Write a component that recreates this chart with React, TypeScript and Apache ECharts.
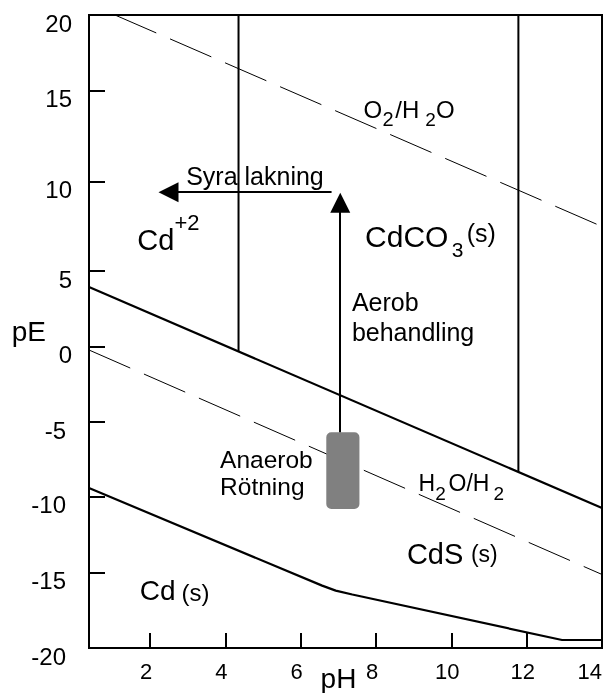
import React, { useEffect, useRef } from 'react';
import * as echarts from 'echarts';

const FONT = '"Liberation Sans", Arial, Helvetica, sans-serif';

// ---- axes ----
const PH_MIN = 0.38;
const PH_MAX = 14;
const PH_TICKS = [2, 4, 6, 8, 10, 12, 14];
const PE_TICKS = [20, 15, 10, 5, 0, -5, -10, -15, -20];
// where each pE tick sits on the drawn (uniform) scale: the original's pE scale is not evenly spaced
const PE_TICK_POS = [20, 15.22, 9.47, 3.82, -0.96, -5.72, -10.44, -15.24, -20];

// ---- boundaries, [pH, pE] ----
const O2_H2O = [[1.07, 20], [14, 7.49]];
const H2O_H2 = [[0.38, -0.22], [14, -15.12]];
const CD2_CDCO3_LOWER = [[0.38, 3.94], [14, -10.74]];
const CD2_CDCO3_V = [[4.35, 20], [4.35, -0.31]];
const CDCO3_V = [[11.78, 20], [11.78, -8.34]];
const CD_CDS = [[0.38, -9.42], [6.57, -15.86], [6.93, -16.19], [7.37, -16.45], [12.94, -19.47], [14, -19.47]];

// ---- arrows [from, to] ----
const ARROW_ACID = [[6.82, 9.41], [2.49, 9.41]];
const ARROW_AEROB = [[7.05, -5.69], [7.05, 8.82]];
// sludge box: pH left, pH right, pE top, pE bottom
const SLUDGE = [6.68, 7.56, -5.69, -10.81];

type Part = { text: string; dx?: number; dy?: number; size: number };
const ANNOTATIONS: { ph: number; pe: number; parts: Part[] }[] = [
  { ph: 2.96, pe: 9.82, parts: [{ text: 'Syra lakning', size: 25 }] },
  { ph: 1.66, pe: 6.18, parts: [{ text: 'Cd', size: 29 }, { text: '+2', dx: 37.3, dy: -20, size: 22 }] },
  {
    ph: 7.67, pe: 13.48, parts: [
      { text: 'O', size: 24 }, { text: '2', dx: 18.8, dy: 8, size: 20 }, { text: '/H', dx: 31.7, size: 24 },
      { text: '2', dx: 61.7, dy: 8, size: 19 }, { text: 'O', dx: 72.5, size: 24 },
    ],
  },
  {
    ph: 7.71, pe: 6.36, parts: [
      { text: 'CdCO', size: 30 }, { text: '3', dx: 86.7, dy: 10, size: 21 }, { text: '(s)', dx: 101.7, dy: -4.7, size: 25 },
    ],
  },
  { ph: 7.36, pe: 2.36, parts: [{ text: 'Aerob', size: 25 }, { text: 'behandling', dy: 30, size: 25 }] },
  { ph: 3.86, pe: -8.1, parts: [{ text: 'Anaerob', size: 24.5 }, { text: 'Rötning', dy: 26.7, size: 24.5 }] },
  {
    ph: 9.13, pe: -9.6, parts: [
      { text: 'H', size: 23 }, { text: '2', dx: 16.8, dy: 9.3, size: 19 }, { text: 'O/H', dx: 30, size: 23 },
      { text: '2', dx: 75, dy: 9.3, size: 19 },
    ],
  },
  { ph: 8.82, pe: -14.43, parts: [{ text: 'CdS', size: 29 }, { text: '(s)', dx: 64, dy: -2, size: 23 }] },
  { ph: 1.73, pe: -16.86, parts: [{ text: 'Cd', size: 28 }, { text: '(s)', dx: 41.7, dy: 0.3, size: 24 }] },
];

function warp(pe: number): number {
  for (let i = 0; i < PE_TICKS.length - 1; i++) {
    const a = PE_TICKS[i], b = PE_TICKS[i + 1];
    if ((pe <= a && pe >= b) || i === PE_TICKS.length - 2) {
      const t = (a - pe) / (a - b);
      return PE_TICK_POS[i] + t * (PE_TICK_POS[i + 1] - PE_TICK_POS[i]);
    }
  }
  return pe;
}

function unwarpLabel(v: number): string {
  let best = 0;
  for (let i = 0; i < PE_TICK_POS.length; i++) {
    if (Math.abs(PE_TICK_POS[i] - v) < Math.abs(PE_TICK_POS[best] - v)) best = i;
  }
  return String(PE_TICKS[best]);
}

const pts = (arr: number[][]) => arr.map(([x, y]) => [x, warp(y)]);

function lineSeries(name: string, data: number[][], width: number, type: any) {
  return {
    type: 'line',
    name,
    data: pts(data),
    symbol: 'none',
    silent: true,
    clip: true,
    z: 3,
    lineStyle: { color: '#000', width, type },
  };
}

export default function App() {
  const ref = useRef<HTMLDivElement>(null);
  useEffect(() => {
    if (!ref.current) return;
    const chart = echarts.init(ref.current, null, { renderer: 'svg' });
    const option: any = {
      animation: false,
      textStyle: { fontFamily: FONT, color: '#000' },
      grid: {
        left: 89, right: 1, top: 15, bottom: 45,
        containLabel: false, outerBoundsMode: 'none',
        show: true, borderColor: '#000', borderWidth: 2, backgroundColor: 'transparent',
      },
      xAxis: {
        type: 'value',
        min: PH_MIN,
        max: PH_MAX,
        name: 'pH',
        nameLocation: 'middle',
        nameGap: 16,
        nameMoveOverlap: false,
        nameTextStyle: { fontSize: 28, color: '#000', fontFamily: FONT, padding: [0, 14, 0, 0] },
        axisLine: { onZero: false, lineStyle: { color: '#000', width: 2 } },
        axisTick: { inside: true, length: 15, customValues: PH_TICKS, lineStyle: { color: '#000', width: 2 } },
        axisLabel: {
          customValues: PH_TICKS,
          fontSize: 22,
          color: '#000',
          fontFamily: FONT,
          margin: 12,
          alignMaxLabel: 'right',
          formatter: (v: number) => (v === PH_MAX ? `{e|${v}}` : `{n|${v}}`),
          rich: {
            n: { fontSize: 22, fontFamily: FONT, color: '#000', padding: [0, 8, 0, 0] },
            e: { fontSize: 22, fontFamily: FONT, color: '#000' },
          },
        },
        splitLine: { show: false },
      },
      yAxis: {
        type: 'value',
        min: -20,
        max: 20,
        name: 'pE',
        nameLocation: 'middle',
        nameRotate: 0,
        nameGap: 43,
        nameMoveOverlap: false,
        nameTextStyle: { fontSize: 28, color: '#000', fontFamily: FONT, padding: [0, 0, 16, 0] },
        axisLine: { onZero: false, lineStyle: { color: '#000', width: 2 } },
        axisTick: { inside: true, length: 16, customValues: PE_TICK_POS, lineStyle: { color: '#000', width: 2 } },
        axisLabel: {
          customValues: PE_TICK_POS,
          fontSize: 24,
          color: '#000',
          fontFamily: FONT,
          margin: 17,
          padding: [16, 0, 0, 0],
          formatter: (v: number) => {
            const s = unwarpLabel(v);
            return Number(s) < 0 ? `{g|${s}}` : `{p|${s}}`;
          },
          rich: {
            p: { fontSize: 24, fontFamily: FONT, color: '#000' },
            g: { fontSize: 24, fontFamily: FONT, color: '#000', padding: [0, 6, 0, 0] },
          },
        },
        splitLine: { show: false },
      },
      series: [
        lineSeries('O2/H2O', O2_H2O, 1, [45, 15]),
        lineSeries('H2O/H2', H2O_H2, 1, [45, 15]),
        lineSeries('Cd+2/CdCO3', CD2_CDCO3_LOWER, 2.2, 'solid'),
        lineSeries('Cd+2|CdCO3', CD2_CDCO3_V, 2, 'solid'),
        lineSeries('CdCO3|right', CDCO3_V, 2, 'solid'),
        lineSeries('Cd/CdS', CD_CDS, 2.2, 'solid'),
        {
          type: 'custom',
          name: 'sludge',
          silent: true,
          z: 4,
          data: [[SLUDGE[0], SLUDGE[1], warp(SLUDGE[2]), warp(SLUDGE[3])]],
          renderItem: (_p: any, api: any) => {
            const a = api.coord([api.value(0), api.value(2)]);
            const b = api.coord([api.value(1), api.value(3)]);
            return {
              type: 'rect',
              shape: { x: a[0], y: a[1], width: b[0] - a[0], height: b[1] - a[1], r: 5 },
              style: { fill: '#808080' },
            };
          },
        },
        {
          type: 'lines',
          coordinateSystem: 'cartesian2d',
          name: 'arrows',
          silent: true,
          z: 5,
          symbol: ['none', 'triangle'],
          symbolSize: 20,
          itemStyle: { color: '#000' },
          lineStyle: { color: '#000', width: 2, opacity: 1, curveness: 0 },
          data: [
            { coords: pts(ARROW_ACID) },
            { coords: pts(ARROW_AEROB) },
          ],
        },
        {
          type: 'custom',
          name: 'labels',
          silent: true,
          clip: false,
          z: 6,
          data: ANNOTATIONS.map((a) => [a.ph, warp(a.pe)]),
          renderItem: (params: any, api: any) => {
            const a = ANNOTATIONS[params.dataIndex];
            const p = api.coord([api.value(0), api.value(1)]);
            return {
              type: 'group',
              children: a.parts.map((part) => ({
                type: 'text',
                x: p[0] + (part.dx || 0),
                y: p[1] + (part.dy || 0) - 0.35 * part.size,
                style: {
                  text: part.text,
                  fontSize: part.size,
                  fontFamily: FONT,
                  fill: '#000',
                  align: 'left',
                  verticalAlign: 'middle',
                  textAlign: 'left',
                  textVerticalAlign: 'middle',
                },
              })),
            };
          },
        },
      ],
    };
    chart.setOption(option);
    return () => chart.dispose();
  }, []);
  return <div ref={ref} style={{ position: 'fixed', left: 0, top: 0, width: 603, height: 693 }} />;
}
